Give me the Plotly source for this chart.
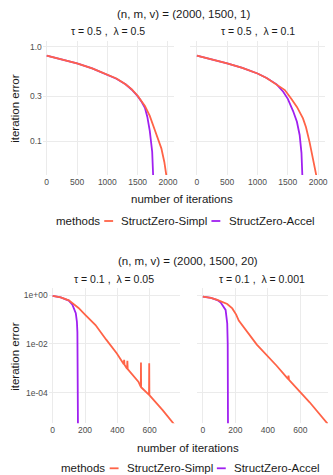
import plotly.graph_objects as go

W, H = 333, 475

# ---------------- data ----------------
methods = ["StructZero-Simpl", "StructZero-Accel"]
method_colors = ["#FF6347", "#A020F0"]

# top figure: (n, m, v) = (2000, 1500, 1)
top_title = "(n, m, v) = (2000, 1500, 1)"
top_facets = ["τ = 0.5 ,  λ = 0.5", "τ = 0.5 ,  λ = 0.1"]

tl_simpl_iter = [0, 250, 500, 750, 1000, 1150, 1300, 1400, 1500, 1580, 1620, 1650, 1700, 1783, 1850, 1891, 1940, 1975, 1995]
tl_simpl_err = [0.803, 0.735, 0.667, 0.59, 0.509, 0.46, 0.40, 0.355, 0.302, 0.26, 0.235, 0.215, 0.185, 0.131, 0.10, 0.0837, 0.06, 0.043, 0.035]
tl_accel_iter = [0, 250, 500, 750, 1000, 1150, 1300, 1400, 1500, 1565, 1620, 1660, 1700, 1740, 1755, 1765]
tl_accel_err = [0.803, 0.735, 0.667, 0.59, 0.507, 0.457, 0.40, 0.352, 0.299, 0.261, 0.225, 0.18, 0.128, 0.077, 0.044, 0.03]

tr_simpl_iter = [0, 250, 500, 750, 1000, 1150, 1315, 1451, 1560, 1650, 1750, 1800, 1858, 1920, 1967, 1985]
tr_simpl_err = [0.803, 0.735, 0.667, 0.595, 0.52, 0.465, 0.399, 0.347, 0.279, 0.23, 0.174, 0.14, 0.098, 0.065, 0.044, 0.035]
tr_accel_iter = [0, 250, 500, 750, 1000, 1150, 1315, 1424, 1500, 1587, 1650, 1695, 1725, 1739, 1750]
tr_accel_err = [0.803, 0.735, 0.667, 0.595, 0.52, 0.465, 0.399, 0.333, 0.28, 0.208, 0.16, 0.116, 0.075, 0.044, 0.03]

# bottom figure: (n, m, v) = (2000, 1500, 20)
bot_title = "(n, m, v) = (2000, 1500, 20)"
bot_facets = ["τ = 0.1 ,  λ = 0.05", "τ = 0.1 ,  λ = 0.001"]

bl_simpl_iter = [0, 50, 100, 130, 160, 200, 230, 265, 330, 397, 440, 442, 444, 460, 462, 464, 530, 545, 546, 547, 596, 597, 598, 680, 750, 770]
bl_simpl_err = [0.912, 0.794, 0.603, 0.437, 0.295, 0.158, 0.10, 0.0589, 0.0151, 0.0040, 1.45e-3, 2.2e-3, 1.4e-3, 9.5e-4, 2.0e-3, 9.2e-4,
                2.8e-4, 1.7e-4, 1.7e-3, 1.65e-4, 8.0e-5, 1.58e-3, 7.8e-5, 1.9e-5, 5.2e-6, 3.5e-6]
bl_accel_iter = [0, 50, 100, 122, 143, 150, 153, 155, 156, 157]
bl_accel_err = [0.912, 0.794, 0.59, 0.40, 0.18, 0.08, 0.03, 1e-3, 1e-5, 1e-6]

br_simpl_iter = [0, 50, 89, 150, 181, 205, 221, 260, 332, 454, 525, 527, 530, 657, 764, 780]
br_simpl_err = [0.85, 0.76, 0.63, 0.427, 0.282, 0.158, 0.089, 0.040, 0.0093, 1.26e-3, 3.55e-4, 5.0e-4, 3.3e-4, 4.0e-5, 5.5e-6, 4.2e-6]
br_accel_iter = [0, 50, 89, 110, 140, 150, 153, 154, 155]
br_accel_err = [0.85, 0.76, 0.62, 0.49, 0.245, 0.069, 0.01, 1e-4, 1e-6]

top_xticks = [0, 500, 1000, 1500, 2000]
top_yticks = [0.1, 0.3, 1.0]
top_yticktext = ["0.1", "0.3", "1.0"]
bot_xticks = [0, 200, 400, 600]
bot_yticks = [1e-4, 1e-2, 1.0]
bot_yticktext = ["1e-04", "1e-02", "1e+00"]

xlabel = "number of iterations"
ylabel = "iteration error"
legend_title = "methods"

# ---------------- helpers ----------------
FONT = "Liberation Sans, Arial, sans-serif"
GRID = "#EBEBEB"
TICKC = "#4D4D4D"
TXT = "#1A1A1A"


def fx(px):
    return px / W


def fy(py):
    return 1 - py / H


fig = go.Figure()

panels = [
    ("x", "y", (tl_simpl_iter, tl_simpl_err), (tl_accel_iter, tl_accel_err)),
    ("x2", "y2", (tr_simpl_iter, tr_simpl_err), (tr_accel_iter, tr_accel_err)),
    ("x3", "y3", (bl_simpl_iter, bl_simpl_err), (bl_accel_iter, bl_accel_err)),
    ("x4", "y4", (br_simpl_iter, br_simpl_err), (br_accel_iter, br_accel_err)),
]
for xa, ya, simpl, accel in panels:
    fig.add_trace(go.Scatter(x=accel[0], y=accel[1], mode="lines", xaxis=xa, yaxis=ya,
                             line=dict(color=method_colors[1], width=1.8), showlegend=False,
                             name=methods[1]))
    fig.add_trace(go.Scatter(x=simpl[0], y=simpl[1], mode="lines", xaxis=xa, yaxis=ya,
                             line=dict(color=method_colors[0], width=1.8), showlegend=False,
                             name=methods[0]))

ax_common = dict(showgrid=True, gridcolor=GRID, gridwidth=1, zeroline=False, showline=False,
                 ticks="", tickfont=dict(family=FONT, size=8.5, color=TICKC))

top_y = (40.7, 175.0)
bot_y = (288.3, 423.3)

layout = dict(
    width=W, height=H,
    margin=dict(l=0, r=0, t=0, b=0),
    paper_bgcolor="white", plot_bgcolor="white",
    showlegend=False,
    font=dict(family=FONT, color=TXT),
    xaxis=dict(domain=[fx(43.3), fx(175.7)], anchor="y", range=[-65, 2093], tickvals=top_xticks, **ax_common),
    yaxis=dict(domain=[fy(top_y[1]), fy(top_y[0])], anchor="x", type="log", range=[-1.36, 0.0636],
               tickvals=top_yticks, ticktext=top_yticktext, **ax_common),
    xaxis2=dict(domain=[fx(192.7), fx(329.0)], anchor="y2", range=[-107, 2114], tickvals=top_xticks, **ax_common),
    yaxis2=dict(domain=[fy(top_y[1]), fy(top_y[0])], anchor="x2", type="log", range=[-1.36, 0.0636],
                tickvals=top_yticks, showticklabels=False, **ax_common),
    xaxis3=dict(domain=[fx(49.3), fx(182.3)], anchor="y3", range=[-24.4, 788], tickvals=bot_xticks, **ax_common),
    yaxis3=dict(domain=[fy(bot_y[1]), fy(bot_y[0])], anchor="x3", type="log", range=[-5.26, 0.275],
                tickvals=bot_yticks, ticktext=bot_yticktext, **ax_common),
    xaxis4=dict(domain=[fx(199.3), fx(332.0)], anchor="y4", range=[-36.5, 770], tickvals=bot_xticks, **ax_common),
    yaxis4=dict(domain=[fy(bot_y[1]), fy(bot_y[0])], anchor="x4", type="log", range=[-5.26, 0.275],
                tickvals=bot_yticks, showticklabels=False, **ax_common),
)
fig.update_layout(**layout)

annotations = []
shapes = []


def text(s, px, py, size, color=TXT, angle=0, xanchor="center"):
    annotations.append(dict(text=s, x=fx(px), y=fy(py), xref="paper", yref="paper",
                            showarrow=False, xanchor=xanchor, yanchor="middle", textangle=angle,
                            font=dict(family=FONT, size=size, color=color)))


text(top_title, 186, 14, 11.5)
text(top_facets[0], 109.5, 31, 10.5)
text(top_facets[1], 261, 31, 10.5)
text(ylabel, 15, 108, 11.5, angle=-90)
text(xlabel, 184, 199.3, 11.5)

text(bot_title, 190.5, 260.7, 11.5)
text(bot_facets[0], 115.8, 279, 10.5)
text(bot_facets[1], 265.6, 279, 10.5)
text(ylabel, 15, 356, 11.5, angle=-90)
text(xlabel, 190.5, 447.7, 11.5)


def legend(y, x_title, keys, labels_x):
    text(legend_title, x_title, y, 11.5, xanchor="left")
    for (k0, k1), lx, name, col in zip(keys, labels_x, methods, method_colors):
        shapes.append(dict(type="line", xref="paper", yref="paper", x0=fx(k0), x1=fx(k1),
                           y0=fy(y), y1=fy(y), line=dict(color=col, width=1.8)))
        text(name, lx, y, 11.5, xanchor="left")


legend(221, 55, [(105.5, 114.5), (214, 223)], [120, 229.3])
legend(468.3, 60, [(111, 120), (219.5, 228.5)], [126.7, 235])

fig.update_layout(annotations=annotations, shapes=shapes)
fig.write_html("out.html", config={"displayModeBar": False},
               post_script="document.body.style.margin='0';document.body.style.overflow='hidden';")
